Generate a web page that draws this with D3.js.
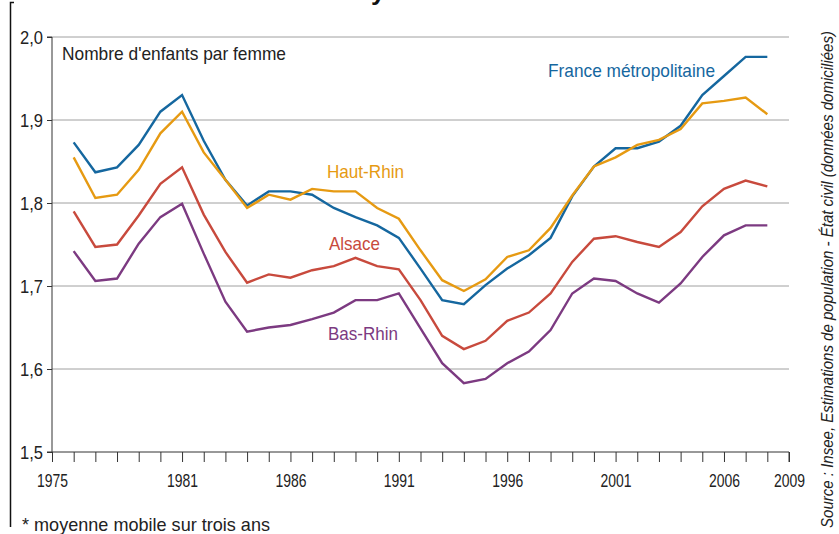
<!DOCTYPE html>
<html>
<head>
<meta charset="utf-8">
<script src="https://cdn.jsdelivr.net/npm/d3@7"></script>
<style>
  body { margin: 0; background: #fff; }
  svg { display: block; }
  text { font-family: "Liberation Sans", Arial, sans-serif; fill: #222; }
</style>
</head>
<body>
<div id="chart"></div>
<script>
// years 1976..2008, one value per year (moyenne mobile sur trois ans)
const years = d3.range(1976, 2009);

const france = [1.873, 1.837, 1.843, 1.870, 1.910, 1.930, 1.875, 1.828, 1.797, 1.814,
  1.814, 1.810, 1.794, 1.783, 1.773, 1.758, 1.721, 1.683, 1.678, 1.701,
  1.721, 1.737, 1.758, 1.808, 1.844, 1.866, 1.866, 1.874, 1.893, 1.930,
  1.953, 1.976, 1.976];

const hautRhin = [1.855, 1.806, 1.810, 1.840, 1.884, 1.910, 1.861, 1.828, 1.794, 1.810,
  1.804, 1.817, 1.814, 1.814, 1.794, 1.781, 1.743, 1.707, 1.694, 1.708,
  1.735, 1.743, 1.770, 1.809, 1.844, 1.855, 1.870, 1.876, 1.889, 1.920,
  1.923, 1.927, 1.907];

const alsace = [1.790, 1.747, 1.750, 1.785, 1.823, 1.843, 1.786, 1.741, 1.704, 1.714,
  1.710, 1.719, 1.724, 1.734, 1.724, 1.720, 1.683, 1.640, 1.624, 1.634,
  1.658, 1.668, 1.691, 1.729, 1.757, 1.760, 1.753, 1.747, 1.765, 1.796,
  1.817, 1.827, 1.820];

const basRhin = [1.742, 1.706, 1.709, 1.751, 1.783, 1.799, 1.739, 1.681, 1.645, 1.650,
  1.653, 1.660, 1.668, 1.683, 1.683, 1.691, 1.649, 1.607, 1.583, 1.588,
  1.607, 1.621, 1.647, 1.691, 1.709, 1.706, 1.691, 1.680, 1.703, 1.735,
  1.761, 1.773, 1.773];

const yTicks = [1.5, 1.6, 1.7, 1.8, 1.9, 2.0];
const xLabels = [1975, 1981, 1986, 1991, 1996, 2001, 2006, 2009];

const series = [
  { name: "France métropolitaine", values: france, color: "#15679f", lx: 548, ly: 77, len: 167 },
  { name: "Haut-Rhin", values: hautRhin, color: "#e69a12", lx: 327, ly: 178, len: 77 },
  { name: "Alsace", values: alsace, color: "#c84a3d", lx: 329, ly: 250, len: 51 },
  { name: "Bas-Rhin", values: basRhin, color: "#7c3a81", lx: 328, ly: 340, len: 70 }
];

const width = 839, height = 534;

const svg = d3.select("#chart").append("svg")
    .attr("width", width)
    .attr("height", height);

const x = d3.scaleLinear().domain([1975, 2009]).range([52, 789]);
const y = d3.scaleLinear().domain([1.5, 2.0]).range([452, 37]);

// frame line on the left
svg.append("path")
    .attr("d", "M14,2.5 H10.5 V527")
    .attr("fill", "none")
    .attr("stroke", "#111")
    .attr("stroke-width", 1.5);

// cut-off title descender
svg.append("text")
    .attr("x", 371)
    .attr("y", 0)
    .style("font-weight", "bold")
    .style("font-size", "26px")
    .style("fill", "#111")
    .text("y");

// gridlines
svg.append("g")
    .selectAll("line")
    .data(yTicks.slice(1))
    .join("line")
      .attr("x1", x(1975))
      .attr("x2", x(2009))
      .attr("y1", d => y(d))
      .attr("y2", d => y(d))
      .attr("stroke", "#a0a0a0")
      .attr("stroke-width", 1);

// y axis
const yAxis = d3.axisLeft(y)
    .tickValues(yTicks)
    .tickSize(5)
    .tickPadding(4)
    .tickFormat(d => d3.format(".1f")(d).replace(".", ","));

svg.append("g")
    .attr("class", "y axis")
    .attr("transform", "translate(" + x(1975) + ",0)")
    .call(yAxis)
    .call(g => g.attr("font-size", 19).attr("font-family", null))
    .call(g => g.select(".domain").attr("stroke", "#333").attr("d", "M-5," + y(2.0) + "H0V" + y(1.5) + "H-5"))
    .call(g => g.selectAll(".tick line").attr("stroke", "#333"))
    .call(g => g.selectAll(".tick text")
        .attr("fill", "#222")
        .attr("textLength", 23)
        .attr("lengthAdjust", "spacingAndGlyphs"));

// x axis
const xAxis = d3.axisBottom(x)
    .tickValues(d3.range(1975, 2010))
    .tickSize(10)
    .tickPadding(12)
    .tickFormat(d => xLabels.includes(d) ? d : "");

svg.append("g")
    .attr("class", "x axis")
    .attr("transform", "translate(0," + y(1.5) + ")")
    .call(xAxis)
    .call(g => g.attr("font-size", 19).attr("font-family", null))
    .call(g => g.select(".domain").attr("stroke", "#333").attr("d", "M" + x(1975) + ",0H" + x(2009) + "V10"))
    .call(g => g.selectAll(".tick line").attr("stroke", "#333"))
    .call(g => g.selectAll(".tick text")
        .filter(d => xLabels.includes(d))
        .attr("fill", "#222")
        .attr("textLength", 31)
        .attr("lengthAdjust", "spacingAndGlyphs"));

// lines
const line = d3.line()
    .x((d, i) => x(years[i]))
    .y(d => y(d));

svg.append("g")
    .selectAll("path")
    .data(series)
    .join("path")
      .attr("d", d => line(d.values))
      .attr("fill", "none")
      .attr("stroke", d => d.color)
      .attr("stroke-width", 2.4)
      .attr("stroke-linejoin", "miter");

// series labels
svg.append("g")
    .selectAll("text")
    .data(series)
    .join("text")
      .attr("x", d => d.lx)
      .attr("y", d => d.ly)
      .attr("textLength", d => d.len)
      .attr("lengthAdjust", "spacingAndGlyphs")
      .style("fill", d => d.color)
      .style("font-size", "19px")
      .text(d => d.name);

svg.append("text")
    .attr("x", 62)
    .attr("y", 60)
    .attr("textLength", 224)
    .attr("lengthAdjust", "spacingAndGlyphs")
    .style("font-size", "19px")
    .text("Nombre d'enfants par femme");

svg.append("text")
    .attr("x", 22)
    .attr("y", 531)
    .attr("textLength", 248)
    .attr("lengthAdjust", "spacingAndGlyphs")
    .style("font-size", "19px")
    .text("* moyenne mobile sur trois ans");

svg.append("text")
    .attr("transform", "translate(833,528) rotate(-90)")
    .attr("textLength", 497)
    .attr("lengthAdjust", "spacingAndGlyphs")
    .style("font-size", "16px")
    .style("font-style", "italic")
    .text("Source : Insee, Estimations de population - État civil (données domiciliées)");
</script>
</body>
</html>
